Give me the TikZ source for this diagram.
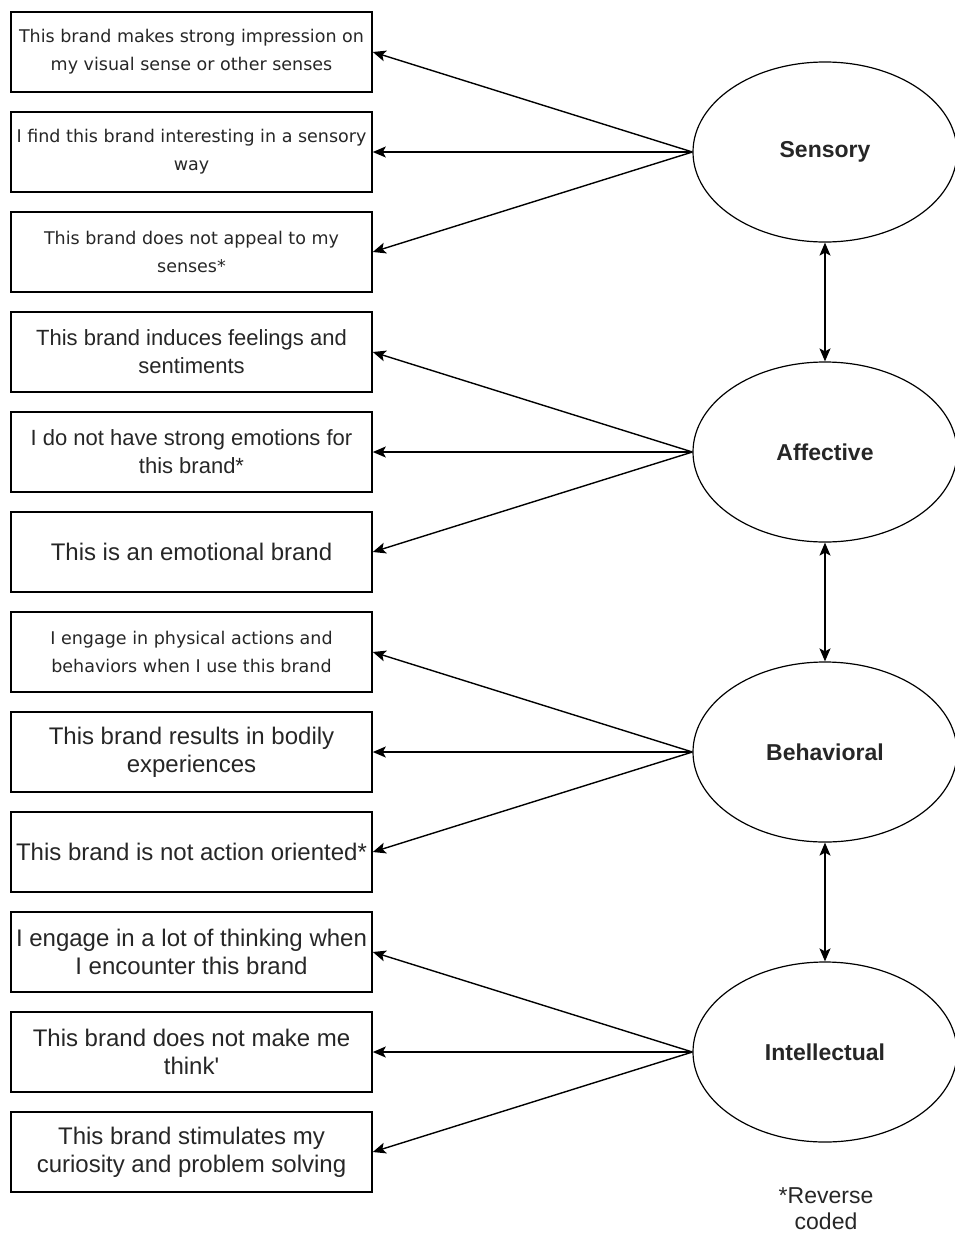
\documentclass[tikz,border=0pt]{standalone}
\usepackage{fontspec}
\setmainfont{Liberation Sans}
\newfontfamily\itemface{DejaVu Sans}
\usetikzlibrary{arrows.meta,shapes.geometric}

\tikzset{
  item/.style={draw=black, line width=1.6pt, minimum width=361pt, minimum height=80pt,
    inner sep=0pt, align=center, text=black!85, font=\fontsize{24}{28}\selectfont},
  smallitem/.style={item, font=\itemface\fontsize{17.5}{28}\selectfont},
  miditem/.style={item, font=\fontsize{22}{28}\selectfont},
  factor/.style={draw=black, ellipse, line width=1.2pt, minimum width=264pt, minimum height=180pt,
    inner sep=0pt, text=black!85, font=\bfseries\fontsize{23}{28}\selectfont},
  load/.style={line width=1.4pt, -{Stealth[length=13pt,width=11pt,inset=3pt]}},
  corr/.style={line width=1.4pt, {Stealth[length=13pt,width=11pt,inset=3pt]}-{Stealth[length=13pt,width=11pt,inset=3pt]}},
  note/.style={align=center, text=black!85, font=\fontsize{23}{26}\selectfont}
}

\begin{document}
\begin{tikzpicture}[x=1pt,y=-1pt]
\useasboundingbox (0,0) rectangle (955,1237);

% indicator items
\node[smallitem] (s1) at (191.5,52)  {This brand makes strong impression on\\my visual sense or other senses};
\node[smallitem] (s2) at (191.5,152) {I find this brand interesting in a sensory\\way};
\node[smallitem] (s3) at (191.5,252) {This brand does not appeal to my\\senses*};
\node[miditem]   (a1) at (191.5,352) {This brand induces feelings and\\sentiments};
\node[miditem]   (a2) at (191.5,452) {I do not have strong emotions for\\this brand*};
\node[item]      (a3) at (191.5,552) {This is an emotional brand};
\node[smallitem] (b1) at (191.5,652) {I engage in physical actions and\\behaviors when I use this brand};
\node[item]      (b2) at (191.5,752) {This brand results in bodily\\experiences};
\node[item]      (b3) at (191.5,852) {This brand is not action oriented*};
\node[item]      (i1) at (191.5,952) {I engage in a lot of thinking when\\I encounter this brand};
\node[item]      (i2) at (191.5,1052) {This brand does not make me\\think\textquotesingle};
\node[item]      (i3) at (191.5,1152) {This brand stimulates my\\curiosity and problem solving};

% latent factors
\node[factor] (sens) at (825,152)  {Sensory};
\node[factor] (aff)  at (825,452)  {Affective};
\node[factor] (beh)  at (825,752)  {Behavioral};
\node[factor] (int)  at (825,1052) {Intellectual};

\node[note] (rev) at (826,1209) {*Reverse\\coded};

% loadings
\foreach \f/\a/\b/\c in {sens/s1/s2/s3, aff/a1/a2/a3, beh/b1/b2/b3, int/i1/i2/i3}{
  \draw[load] (\f.west) -- (\a.east);
  \draw[load] (\f.west) -- (\b.east);
  \draw[load] (\f.west) -- (\c.east);
}

% correlations between factors
\draw[corr] (sens.south) -- (aff.north);
\draw[corr] (aff.south) -- (beh.north);
\draw[corr] (beh.south) -- (int.north);
\end{tikzpicture}
\end{document}
